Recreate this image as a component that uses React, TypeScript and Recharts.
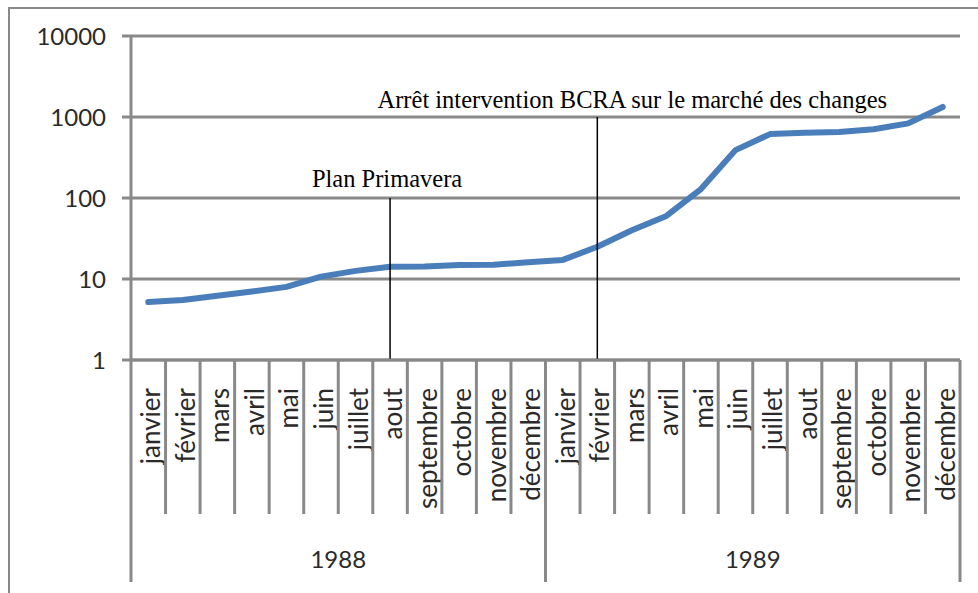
import { LineChart, Line, XAxis, YAxis, CartesianGrid, ReferenceLine } from 'recharts';

const months = ['janvier', 'février', 'mars', 'avril', 'mai', 'juin', 'juillet', 'aout', 'septembre', 'octobre', 'novembre', 'décembre'];
const years = ['1988', '1989'];
const values1988 = [5.2, 5.5, 6.2, 7.0, 8.0, 10.7, 12.6, 14.2, 14.3, 14.9, 15.0, 16.1];
const values1989 = [17.2, 25, 40, 60, 129, 390, 615, 640, 655, 705, 835, 1330];
const yTicks = [1, 10, 100, 1000, 10000];
const notePrimavera = { text: 'Plan Primavera', month: 'aout', year: '1988', top: 100 };
const noteBcra = { text: 'Arrêt intervention BCRA sur le marché des changes', month: 'février', year: '1989', top: 1000 };

const GRAY = '#898989';
const SANS = 'Lato, "Open Sans", sans-serif';
const SERIF = '"Liberation Serif", "Times New Roman", serif';

const series = [values1988, values1989];
const data = years.flatMap((year, yi) =>
  months.map((month, mi) => ({ key: `${month} ${year}`, month, year, value: series[yi][mi] }))
);

const MonthTick = (props: any) => {
  const { x, y, payload, index, width } = props;
  const band = payload?.offset ? payload.offset * 2 : width / data.length;
  const left = x - band / 2;
  const row = data[index];
  const yearStart = index % 12 === 0;
  return (
    <g>
      <line x1={left} y1={y} x2={left} y2={y + (yearStart ? 222 : 154)} stroke={GRAY} strokeWidth={3} />
      {index === data.length - 1 && (
        <line x1={left + band} y1={y} x2={left + band} y2={y + 222} stroke={GRAY} strokeWidth={3} />
      )}
      <text
        transform={`translate(${x + 12},${y + 28}) rotate(-90)`}
        textAnchor="end"
        fontFamily={SANS}
        fontSize={26}
        fill="#2a2a2a"
      >
        {row.month}
      </text>
      {yearStart && (
        <text x={left + band * 6} y={y + 208} textAnchor="middle" fontFamily={SANS} fontSize={24} fill="#2a2a2a">
          {row.year}
        </text>
      )}
    </g>
  );
};

const noteLabel = (text: string, dx: number, dy: number) => (props: any) => {
  const vb = props.viewBox || {};
  return (
    <text x={vb.x + dx} y={vb.y - dy} textAnchor="middle" fontFamily={SERIF} fontSize={24.5} fill="#000">
      {text}
    </text>
  );
};

export default function App() {
  const xP = `${notePrimavera.month} ${notePrimavera.year}`;
  const xB = `${noteBcra.month} ${noteBcra.year}`;
  return (
    <div style={{ position: 'relative', width: 978, height: 593, overflow: 'hidden', background: '#fff' }}>
      <style>{`body{margin:0;overflow:hidden}`}</style>
      <div
        style={{
          position: 'absolute',
          left: 8,
          top: 7,
          width: 1000,
          height: 620,
          borderTop: `2px solid ${GRAY}`,
          borderLeft: `2px solid ${GRAY}`,
        }}
      />
      <div style={{ position: 'absolute', left: 0, top: 0 }}>
        <LineChart width={978} height={593} data={data} margin={{ top: 36, right: 18, bottom: 0, left: 0 }}>
          <CartesianGrid vertical={false} stroke={GRAY} strokeWidth={3} />
          <XAxis
            dataKey="key"
            scale="band"
            interval={0}
            height={233}
            tickSize={0}
            tickMargin={0}
            tickLine={false}
            axisLine={{ stroke: GRAY, strokeWidth: 3 }}
            tick={<MonthTick />}
          />
          <YAxis
            scale="log"
            domain={[1, 10000]}
            ticks={yTicks}
            allowDataOverflow
            width={131}
            tickSize={9}
            tickMargin={16}
            tickLine={{ stroke: GRAY, strokeWidth: 3 }}
            axisLine={{ stroke: GRAY, strokeWidth: 3 }}
            tick={{ fontFamily: SANS, fontSize: 24, fill: '#2a2a2a' }}
          />
          <Line
            type="linear"
            dataKey="value"
            stroke="#4A7EBB"
            strokeWidth={6}
            strokeLinecap="round"
            strokeLinejoin="round"
            dot={false}
            isAnimationActive={false}
          />
          <ReferenceLine
            segment={[{ x: xP, y: 1 }, { x: xP, y: notePrimavera.top }]}
            stroke="#000"
            strokeWidth={1.5}
            label={noteLabel(notePrimavera.text, -3, 11)}
          />
          <ReferenceLine
            segment={[{ x: xB, y: 1 }, { x: xB, y: noteBcra.top }]}
            stroke="#000"
            strokeWidth={1.5}
            label={noteLabel(noteBcra.text, 35, 9)}
          />
        </LineChart>
      </div>
    </div>
  );
}
